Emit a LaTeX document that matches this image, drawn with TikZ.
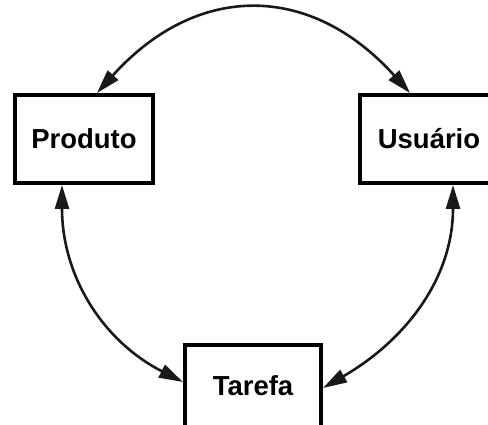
\documentclass[tikz,border=0pt]{standalone}
\usepackage{fontspec}
\setmainfont{Liberation Sans}
\usetikzlibrary{arrows.meta,calc}
\begin{document}
\begin{tikzpicture}[x=1pt,y=1pt,
  box/.style={draw=black, line width=4pt, fill=white, inner sep=0pt,
    font=\fontsize{27.5}{32}\selectfont\bfseries},
  link/.style={line width=2.6pt, draw=black!90,
    {Triangle[length=24pt,width=14pt]}-{Triangle[length=24pt,width=14pt]}}]
  \useasboundingbox (0,0) rectangle (488,425);
  \clip (0,0) rectangle (488,425);
  \fill[white] (0,0) rectangle (488,425);

  % the three boxes
  \node[box, minimum width=138pt, minimum height=88pt] (prod) at (84,286) {Produto};
  \node[box, minimum width=138pt, minimum height=88pt] (usr)  at (429,286) {Usuário};
  \node[box, minimum width=136pt, minimum height=82pt] (tar)  at (253,39) {Tarefa};

  % curved two-way connectors
  \draw[link] ($(prod.north)+(13,0)$) to[out=48,in=132,looseness=1.22] ($(usr.north)+(-19,0)$);
  \draw[link] ($(prod.south)+(-22,0)$) to[out=-90,in=153] ($(tar.west)+(0,4)$);
  \draw[link] ($(usr.south)+(24,0)$) to[out=-90,in=30] ($(tar.east)+(0,-2)$);
\end{tikzpicture}
\end{document}
